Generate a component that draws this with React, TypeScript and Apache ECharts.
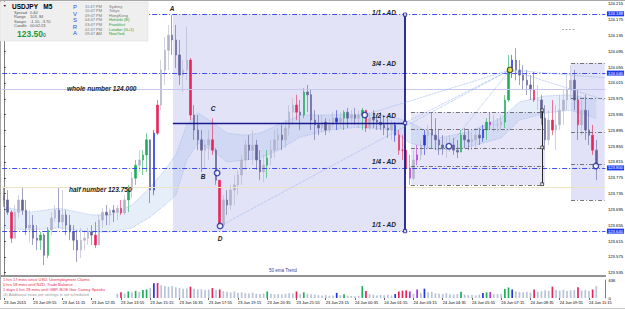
import React, { useEffect, useRef } from 'react';
import * as echarts from 'echarts';

const FONT = '"Liberation Sans", Arial, sans-serif';

// time-axis tick labels (one every 8 bars of 10 minutes)
const timeLabels = ['23 Jun 2015', '23 Jun 09:55', '23 Jun 11:15', '23 Jun 12:35', '23 Jun 13:55', '23 Jun 15:15', '23 Jun 16:35', '23 Jun 17:55', '23 Jun 19:15', '23 Jun 20:35', '23 Jun 21:55', '23 Jun 23:15', '24 Jun 00:35', '24 Jun 01:55', '24 Jun 03:15', '24 Jun 04:35', '24 Jun 05:55', '24 Jun 07:15', '24 Jun 08:35', '24 Jun 09:55', '24 Jun 11:15'];
const barCount = 165;
const firstOpen = 123.731;

const highs = [123.752, 123.744, 123.693, 123.706, 123.731, 123.752, 123.719, 123.693, 123.681, 123.655, 123.638, 123.635, 123.650, 123.688, 123.706, 123.752, 123.744, 123.693, 123.681, 123.655, 123.643, 123.648, 123.638, 123.648, 123.655, 123.663, 123.681, 123.698, 123.706, 123.698, 123.706, 123.706, 123.719, 123.731, 123.757, 123.790, 123.820, 123.845, 123.845, 123.888, 123.871, 123.896, 123.972, 124.073, 124.131, 124.162, 124.187, 124.162, 124.124, 124.073, 124.157, 124.078, 123.959, 123.934, 123.896, 123.871, 123.896, 123.926, 123.850, 123.769, 123.731, 123.744, 123.757, 123.782, 123.795, 123.833, 123.871, 123.883, 123.896, 123.871, 123.845, 123.833, 123.845, 123.871, 123.896, 123.901, 123.909, 123.921, 123.959, 123.977, 123.985, 123.972, 124.002, 124.010, 123.997, 123.946, 123.934, 123.934, 123.926, 123.926, 123.941, 123.946, 123.941, 123.946, 123.952, 123.946, 123.952, 123.946, 123.952, 123.946, 123.941, 123.946, 123.934, 123.941, 123.934, 123.926, 123.921, 123.916, 123.896, 123.883, 123.858, 123.833, 123.845, 123.858, 123.871, 123.896, 123.909, 123.941, 123.926, 123.896, 123.883, 123.876, 123.883, 123.876, 123.871, 123.896, 123.901, 123.896, 123.891, 123.901, 123.901, 123.909, 123.926, 123.941, 123.934, 123.926, 123.934, 123.985, 124.086, 124.086, 124.103, 124.073, 124.060, 124.048, 124.035, 124.043, 124.010, 123.985, 123.959, 123.946, 123.972, 123.959, 123.985, 123.997, 124.035, 124.060, 124.048, 123.997, 123.972, 123.985, 123.946, 123.909, 123.871];
const lows = [123.701, 123.681, 123.610, 123.630, 123.673, 123.681, 123.630, 123.612, 123.605, 123.592, 123.592, 123.554, 123.572, 123.630, 123.663, 123.648, 123.643, 123.630, 123.617, 123.592, 123.562, 123.572, 123.592, 123.605, 123.605, 123.597, 123.617, 123.648, 123.655, 123.655, 123.663, 123.668, 123.681, 123.681, 123.688, 123.724, 123.757, 123.790, 123.782, 123.790, 123.711, 123.731, 123.883, 123.946, 124.010, 124.048, 124.086, 124.053, 124.010, 123.992, 124.022, 123.921, 123.871, 123.845, 123.790, 123.800, 123.820, 123.833, 123.757, 123.648, 123.648, 123.681, 123.693, 123.706, 123.731, 123.757, 123.795, 123.820, 123.807, 123.795, 123.769, 123.764, 123.774, 123.807, 123.825, 123.845, 123.845, 123.850, 123.883, 123.909, 123.921, 123.896, 123.926, 123.941, 123.896, 123.871, 123.883, 123.891, 123.883, 123.888, 123.901, 123.896, 123.901, 123.896, 123.901, 123.909, 123.909, 123.901, 123.896, 123.891, 123.896, 123.901, 123.896, 123.896, 123.883, 123.876, 123.871, 123.866, 123.833, 123.820, 123.782, 123.757, 123.769, 123.807, 123.820, 123.833, 123.845, 123.850, 123.845, 123.833, 123.833, 123.825, 123.840, 123.833, 123.825, 123.840, 123.850, 123.845, 123.845, 123.850, 123.858, 123.866, 123.871, 123.896, 123.891, 123.891, 123.896, 123.901, 123.967, 124.028, 124.022, 124.010, 123.997, 123.985, 123.972, 123.967, 123.946, 123.909, 123.845, 123.858, 123.883, 123.845, 123.896, 123.909, 123.946, 123.972, 123.946, 123.871, 123.883, 123.871, 123.858, 123.833, 123.769];
const closes = [123.719, 123.688, 123.622, 123.688, 123.719, 123.693, 123.648, 123.655, 123.622, 123.617, 123.630, 123.579, 123.643, 123.673, 123.693, 123.663, 123.681, 123.655, 123.638, 123.617, 123.592, 123.617, 123.622, 123.638, 123.630, 123.605, 123.668, 123.688, 123.681, 123.693, 123.688, 123.698, 123.686, 123.719, 123.744, 123.774, 123.807, 123.820, 123.833, 123.871, 123.744, 123.888, 123.959, 124.048, 124.098, 124.136, 124.124, 124.086, 124.035, 124.048, 124.073, 123.934, 123.896, 123.871, 123.845, 123.858, 123.871, 123.845, 123.769, 123.655, 123.719, 123.706, 123.744, 123.757, 123.782, 123.820, 123.858, 123.845, 123.858, 123.820, 123.790, 123.807, 123.825, 123.845, 123.871, 123.883, 123.871, 123.901, 123.941, 123.959, 123.941, 123.934, 123.992, 123.985, 123.921, 123.909, 123.901, 123.916, 123.896, 123.909, 123.926, 123.916, 123.926, 123.941, 123.926, 123.934, 123.926, 123.934, 123.946, 123.901, 123.926, 123.921, 123.916, 123.909, 123.901, 123.896, 123.909, 123.883, 123.845, 123.845, 123.800, 123.774, 123.820, 123.833, 123.858, 123.883, 123.896, 123.883, 123.871, 123.858, 123.850, 123.855, 123.858, 123.845, 123.840, 123.883, 123.871, 123.866, 123.871, 123.883, 123.876, 123.896, 123.916, 123.909, 123.909, 123.909, 123.916, 123.972, 124.053, 124.073, 124.048, 124.035, 124.022, 124.010, 123.997, 123.972, 123.972, 123.926, 123.871, 123.921, 123.896, 123.909, 123.946, 123.972, 123.997, 124.022, 123.972, 123.909, 123.946, 123.896, 123.883, 123.845, 123.807];

// PVSRA bar classes: R bear climax, G bull climax, B bull above average, M bear above average
const barTypes: Record<number, string> = { 2: 'R', 10: 'G', 12: 'G', 25: 'R', 32: 'R', 34: 'G', 36: 'G', 38: 'G', 39: 'G', 41: 'B', 42: 'R', 51: 'R', 57: 'R', 59: 'R', 72: 'G', 80: 'R', 82: 'G', 91: 'B', 93: 'G', 98: 'G', 99: 'R', 107: 'B', 108: 'R', 109: 'R', 110: 'R', 111: 'M', 113: 'M', 115: 'B', 125: 'G', 131: 'B', 132: 'G', 133: 'M', 137: 'G', 138: 'G', 139: 'B', 145: 'R', 150: 'R', 157: 'R', 161: 'R' };

const volStart = 31;
const volumes = [150, 200, 160, 230, 200, 250, 220, 280, 300, 360, 520, 530, 450, 420, 400, 420, 380, 350, 330, 340, 400, 330, 300, 310, 280, 300, 350, 280, 300, 240, 220, 200, 230, 180, 200, 170, 160, 190, 150, 140, 160, 230, 150, 130, 140, 120, 150, 170, 160, 230, 140, 200, 150, 130, 120, 100, 90, 110, 80, 90, 180, 100, 130, 80, 70, 60, 80, 420, 250, 140, 120, 90, 110, 100, 120, 90, 140, 230, 260, 270, 230, 150, 300, 180, 330, 200, 220, 170, 150, 140, 170, 130, 120, 140, 220, 120, 100, 110, 90, 120, 180, 200, 210, 130, 140, 150, 320, 370, 300, 230, 210, 200, 220, 190, 300, 220, 240, 270, 250, 400, 280, 260, 290, 250, 270, 280, 380, 260, 280, 250, 300, 420];

const priceTicks = [124.215, 124.175, 124.135, 124.095, 124.055, 124.015, 123.975, 123.935, 123.895, 123.855, 123.815, 123.775, 123.735, 123.695, 123.655, 123.615, 123.575, 123.535];
const volTicks = [0, 636];

// 50 ema ribbon edges, read at sample bars
const bandIdx = [0, 7, 15, 24, 29, 35, 40, 44, 47, 50, 53, 57, 61, 66, 70, 75, 81, 89, 97, 106, 111, 119, 127, 136, 141, 148, 155, 162];
const bandUpper = [123.701, 123.688, 123.698, 123.681, 123.681, 123.706, 123.751, 123.795, 123.833, 123.909, 123.939, 123.916, 123.888, 123.883, 123.888, 123.909, 123.934, 123.934, 123.936, 123.931, 123.916, 123.876, 123.891, 123.926, 123.967, 123.982, 123.985, 123.972];
const bandLower = [123.648, 123.643, 123.648, 123.638, 123.638, 123.648, 123.676, 123.706, 123.731, 123.820, 123.863, 123.845, 123.815, 123.820, 123.825, 123.845, 123.878, 123.896, 123.903, 123.896, 123.863, 123.845, 123.853, 123.876, 123.921, 123.939, 123.946, 123.926];

// drawn levels (price)
const blueLevels = [124.188, 124.040, 123.800, 123.640];
const wholeNumber = 124.0;
const halfNumber = 123.75;
const adHalf = 123.914;
// annotation anchors in [bar index, price]
const adStartBar = 46.2;
const adEndBar = 109.7;
const boxA = { x1: 111.3, x2: 148, lines: [123.941, 123.898, 123.850, 123.805, 123.757] };
const boxB = { x1: 155.1, x2: 164.3, lines: [124.066, 123.977, 123.891, 123.810, 123.719] };
const measureBar = 147.2;
const yellowPt = [138.4, 124.048];
const circlePts = [[58.3, 123.787], [59.1, 123.653], [98.7, 123.934], [121.7, 123.855], [161.9, 123.805]];
const fanFrom = [[59.1, 123.653], [98.7, 123.934], [109.7, 123.914], [121.7, 123.855]];
const fanTo = [[164.3, 124.028], [164.3, 123.972]];

const typeColors: Record<string, string> = { R: '#e8245a', G: '#1fae5a', B: '#2436e0', M: '#b030e0' };
const upColor = '#b2b2ca';
const downColor = '#62629a';
const volColor = '#b9c4d8';

function App() {
  const ref = useRef<HTMLDivElement>(null);
  useEffect(() => {
    if (!ref.current) return;
    const chart = echarts.init(ref.current, undefined, { renderer: 'svg' });
    const categories = Array.from({ length: barCount }, (_, i) => String(i));
    const opens = closes.map((c, i) => (i === 0 ? firstOpen : closes[i - 1]));
    const candleData = closes.map((c, i) => {
      const o = opens[i];
      const h = Math.max(highs[i], o, c);
      const l = Math.min(lows[i], o, c);
      const t = barTypes[i];
      const col = t ? typeColors[t] : c >= o ? upColor : downColor;
      return { value: [o, c, l, h], itemStyle: { color: col, color0: col, borderColor: col, borderColor0: col } };
    });
    const volData = categories.map((_, i) => {
      const k = i - volStart;
      if (k < 0 || k >= volumes.length) return null;
      const t = barTypes[i];
      return { value: volumes[k], itemStyle: { color: t ? typeColors[t] : volColor } };
    });

    const seg = (a: number[], b: number[], style: any) => [
      { coord: a, lineStyle: style },
      { coord: b },
    ];
    const dashDot = { color: '#555', width: 0.8, type: [4, 2, 1, 2] };
    const boxLines: any[] = [];
    [boxA, boxB].forEach((bx) => bx.lines.forEach((p) => boxLines.push(seg([bx.x1, p], [bx.x2, p], dashDot))));

    const T = (text: string, x: number, y: number, o: any = {}) => ({
      type: 'text', x, y, silent: true, z: 100,
      style: {
        text, fill: o.fill || '#000', fontSize: o.size || 4, fontWeight: o.bold ? 'bold' : 'normal',
        fontStyle: o.italic ? 'italic' : 'normal', fontFamily: FONT, align: o.align || 'left', verticalAlign: 'middle',
      },
    });
    const adStyle = { size: 6.5, bold: true, italic: true, fill: '#222', align: 'right' };
    const letterStyle = { size: 6.5, bold: true, italic: true, fill: '#222', align: 'center' };
    const cityTimes = ['11:47 PM', '10:47 PM', '09:47 PM', '04:47 PM', '03:47 PM', '02:47 PM', '09:47 AM'];
    const cityNames = ['Sydney', 'Tokyo', 'HongKong', 'Helsinki (E)', 'Frankfurt', 'London (G+1)', 'NewYork'];
    const cityColors = ['#777', '#777', '#777', '#2aa02a', '#2aa02a', '#2aa02a', '#2aa02a'];
    const graphics: any[] = [
      { type: 'rect', shape: { x: 0, y: 2, width: 148, height: 39 }, style: { fill: '#efefef', stroke: '#dadada', lineWidth: 0.5 }, z: 99, silent: true },
      T('\u25BC', 3, 6, { size: 3.5 }),
      T('USDJPY   M5', 12, 6, { size: 6.5, bold: true }),
      T('Spread', 14, 12, { fill: '#555' }), T('0.40', 30, 12, { fill: '#555' }),
      T('Range', 14, 16.5, { fill: '#555' }), T('103, 84', 30, 16.5, { fill: '#555' }),
      T('Swaps', 14, 21, { fill: '#555' }), T('-1.10, -3.70', 30, 21, { fill: '#555' }),
      T('Candle', 14, 25.5, { fill: '#555' }), T('00:02:23', 30, 25.5, { fill: '#555' }),
      T('123.50', 17, 34, { size: 8.5, bold: true, fill: '#1a9a3a' }),
      T('0', 43, 35, { size: 5, fill: '#333' }),
      ...['P', 'V', 'S', 'R', 'A'].map((c, k) => T(c, 75, 7 + k * 6.5, { size: 6, fill: '#2f50d8', align: 'center' })),
      ...cityTimes.map((t, k) => T(t, 85, 6 + k * 4.6, { fill: '#777' })),
      ...cityNames.map((t, k) => T(t, 109, 6 + k * 4.6, { fill: cityColors[k] })),
      T('1/1 - AD', 396, 12.5, adStyle),
      T('3/4 - AD', 396, 63, adStyle),
      T('1/2 - AD', 396, 115, adStyle),
      T('1/4 - AD', 396, 161, adStyle),
      T('1/1 - AD', 396, 224.5, adStyle),
      T('A', 172, 8, letterStyle), T('B', 203, 176, letterStyle), T('C', 213, 108, letterStyle), T('D', 220, 238, letterStyle),
      T('whole number 124.000', 67, 88.5, { size: 6.5, bold: true, italic: true, fill: '#222' }),
      T('half number 123.750', 69, 189, { size: 6.5, bold: true, italic: true, fill: '#222' }),
      T('50 ema Trend', 269, 270.5, { size: 4.5, fill: '#3a3a9a' }),
      T('1 hrs 17 mins since USD, Unemployment Claims', 3, 279.5, { fill: '#e8264f' }),
      T('0 hrs 58 mins until NZD, Trade Balance', 3, 284.5, { fill: '#e8264f' }),
      T('1 days 0 hrs 28 mins until GBP, BOE Gov Carney Speaks', 3, 289.5, { fill: '#e8264f' }),
      T('(4) Additional news per settings is not scheduled', 3, 294.5, { fill: '#999' }),
      { type: 'line', shape: { x1: 0, y1: 276, x2: 606, y2: 276 }, style: { stroke: '#6e6e6e', lineWidth: 1.6 }, z: 98, silent: true },
      { type: 'line', shape: { x1: 0.5, y1: 0, x2: 0.5, y2: 300 }, style: { stroke: '#a8a8a8', lineWidth: 1 }, z: 98, silent: true },
      { type: 'line', shape: { x1: 0, y1: 0.5, x2: 625, y2: 0.5 }, style: { stroke: '#a8a8a8', lineWidth: 1 }, z: 98, silent: true },
      { type: 'line', shape: { x1: 0, y1: 308.5, x2: 625, y2: 308.5 }, style: { stroke: '#c8c8c8', lineWidth: 1 }, z: 98, silent: true },
    ];

    const bandLine = { color: '#9fb8e8', width: 0.8, type: 'dotted' };
    const option: any = {
      animation: false,
      backgroundColor: '#ffffff',
      grid: [
        { left: 2.17, top: 0, width: 603.24, height: 275, outerBoundsMode: 'none' },
        { left: 2.17, top: 280, width: 603.24, height: 18, outerBoundsMode: 'none' },
      ],
      xAxis: [
        { type: 'category', gridIndex: 0, data: categories, show: false, boundaryGap: true },
        {
          type: 'category', gridIndex: 1, data: categories, boundaryGap: true,
          axisLine: { show: false },
          axisTick: { show: true, interval: 7, length: 2, alignWithLabel: true, lineStyle: { color: '#000', width: 0.6 } },
          axisLabel: { interval: 7, formatter: (_v: any, idx: number) => timeLabels[idx / 8] || '', align: 'left', fontSize: 4, color: '#000', margin: 2.5, fontFamily: FONT },
        },
        { type: 'value', gridIndex: 0, min: -0.5, max: barCount - 0.5, show: false },
      ],
      yAxis: [
        {
          type: 'value', gridIndex: 0, position: 'right', min: 123.529, max: 124.225, scale: true,
          splitLine: { show: false },
          axisLine: { show: true, lineStyle: { color: '#808080', width: 1 } },
          axisTick: { show: true, length: 2, customValues: priceTicks, lineStyle: { color: '#000', width: 0.6 } },
          axisLabel: { customValues: priceTicks, formatter: (v: number) => v.toFixed(3), fontSize: 4.2, color: '#000', margin: 2.5, fontFamily: FONT },
        },
        {
          type: 'value', gridIndex: 1, position: 'right', min: 0, max: 636,
          splitLine: { show: false },
          axisLine: { show: true, lineStyle: { color: '#808080', width: 1 } },
          axisTick: { show: false },
          axisLabel: { customValues: volTicks, fontSize: 4.2, color: '#000', margin: 3, fontFamily: FONT },
        },
      ],
      series: [
        {
          type: 'line', name: 'zones', xAxisIndex: 2, yAxisIndex: 0, data: [], z: 1, silent: true,
          markArea: {
            silent: true,
            data: [
              [{ coord: [adStartBar, blueLevels[0]], itemStyle: { color: '#e3e3f8' } }, { coord: [adEndBar, blueLevels[3]] }],
              [{ coord: [boxA.x1, boxA.lines[0]], itemStyle: { color: '#e6e6f8' } }, { coord: [boxA.x2, boxA.lines[4]] }],
              [{ coord: [boxB.x1, boxB.lines[0]], itemStyle: { color: '#e1e1f7' } }, { coord: [boxB.x2, boxB.lines[4]] }],
            ],
          },
          markLine: {
            silent: true, symbol: ['none', 'none'], animation: false,
            data: [
              { yAxis: wholeNumber, lineStyle: { color: '#c6c6ec', width: 1, type: 'solid' }, label: { show: false } },
              { yAxis: halfNumber, lineStyle: { color: '#ece3c6', width: 1, type: 'solid' }, label: { show: false } },
              ...blueLevels.map((p) => ({
                yAxis: p,
                lineStyle: { color: '#2a3be8', width: 0.9, type: [5, 2, 1, 2] },
                label: { show: true, position: 'end', distance: 1.5, formatter: p.toFixed(3), color: '#fff', backgroundColor: '#1f3cf0', fontSize: 4.2, padding: [0.5, 1], fontFamily: FONT },
              })),
              ...boxLines,
              seg([152.6, 124.152], [156.2, 124.152], { color: '#999', width: 0.8, type: [2, 1.5] }),
            ],
          },
        },
        {
          type: 'custom', name: 'ema ribbon', xAxisIndex: 2, yAxisIndex: 0, z: 2, silent: true, clip: true,
          data: [[bandIdx[0], bandLower[0]]],
          renderItem: (_p: any, api: any) => {
            const pts: number[][] = [];
            bandIdx.forEach((x, k) => pts.push(api.coord([x, bandUpper[k]])));
            for (let k = bandIdx.length - 1; k >= 0; k--) pts.push(api.coord([bandIdx[k], bandLower[k]]));
            return { type: 'polygon', shape: { points: pts }, style: { fill: 'rgba(150,182,236,0.24)', stroke: 'none' } };
          },
        },
        {
          type: 'line', name: 'ema lower', xAxisIndex: 2, yAxisIndex: 0, symbol: 'none', silent: true, z: 2,
          data: bandIdx.map((x, k) => [x, bandLower[k]]), lineStyle: bandLine,
        },
        {
          type: 'line', name: 'ema upper', xAxisIndex: 2, yAxisIndex: 0, symbol: 'none', silent: true, z: 2,
          data: bandIdx.map((x, k) => [x, bandUpper[k]]), lineStyle: bandLine,
        },
        {
          type: 'candlestick', name: 'USDJPY', xAxisIndex: 0, yAxisIndex: 0, data: candleData, barWidth: 2, z: 3,
          itemStyle: { borderWidth: 0.6 },
        },
        {
          type: 'scatter', name: 'marks', xAxisIndex: 2, yAxisIndex: 0, z: 5, silent: true,
          data: circlePts, symbol: 'circle', symbolSize: 5.5,
          itemStyle: { color: '#ffffff', borderColor: '#1a2a9a', borderWidth: 1.4 },
          markLine: {
            silent: true, symbol: ['none', 'none'], animation: false,
            data: [
              seg([adStartBar, adHalf], [adEndBar, adHalf], { color: '#1a1a8c', width: 1.3, type: 'solid' }),
              seg([adEndBar, blueLevels[0]], [adEndBar, blueLevels[3]], { color: '#1a1a8c', width: 1.8, type: 'solid' }),
              seg([measureBar, 123.946], [measureBar, 123.759], { color: '#111', width: 0.9, type: 'solid' }),
              ...fanFrom.map((p) => seg(p, yellowPt, { color: '#8fb0e8', width: 0.8, type: 'dotted' })),
              ...fanTo.map((p) => seg(yellowPt, p, { color: '#8fb0e8', width: 0.8, type: 'dotted' })),
            ],
          },
        },
        {
          type: 'scatter', name: 'anchors', xAxisIndex: 2, yAxisIndex: 0, z: 6, silent: true,
          data: [[adEndBar, blueLevels[0]], [adEndBar, adHalf], [adEndBar, blueLevels[3]]],
          symbol: 'rect', symbolSize: 3.2, itemStyle: { color: '#ffffff', borderColor: '#1a1a8c', borderWidth: 1 },
        },
        {
          type: 'scatter', name: 'measure', xAxisIndex: 2, yAxisIndex: 0, z: 6, silent: true,
          data: [[measureBar, 123.946], [measureBar, 123.852], [measureBar, 123.759]],
          symbol: 'rect', symbolSize: 2.8, itemStyle: { color: '#ffffff', borderColor: '#111', borderWidth: 0.8 },
        },
        {
          type: 'scatter', name: 'yellow', xAxisIndex: 2, yAxisIndex: 0, z: 7, silent: true,
          data: [yellowPt], symbol: 'circle', symbolSize: 5.5,
          itemStyle: { color: '#f5e21a', borderColor: '#333', borderWidth: 1.2 },
        },
        {
          type: 'bar', name: 'volume', xAxisIndex: 1, yAxisIndex: 1, data: volData, barWidth: 1.7, silent: true,
        },
      ],
      graphic: graphics,
    };
    chart.setOption(option);
    return () => chart.dispose();
  }, []);
  return <div ref={ref} style={{ position: 'fixed', left: 0, top: 0, width: 625, height: 310, background: '#fff' }} />;
}

export default App;
